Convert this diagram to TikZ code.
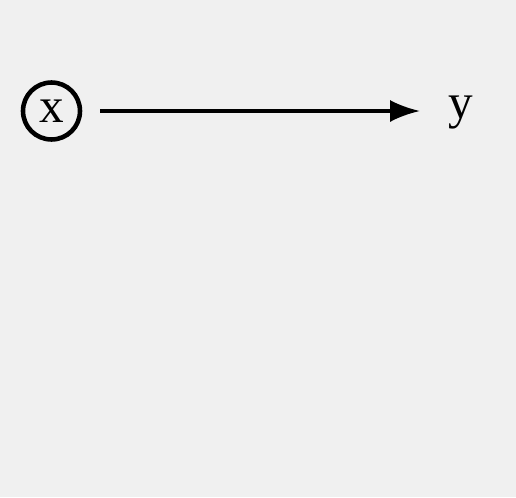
\documentclass[tikz,border=0pt]{standalone}
\usepackage{fontspec}
\setmainfont{Liberation Serif}
\usetikzlibrary{arrows.meta, positioning}
\definecolor{paper}{RGB}{240,240,240}

\begin{document}
\begin{tikzpicture}[
    x=0.02cm, y=-0.02cm,
    var/.style={font=\fontsize{28}{32}\selectfont, inner sep=0pt},
    circvar/.style={var, circle, draw=black, line width=2.6pt,
                    minimum size=1.14cm},
    link/.style={-{Latex[length=17pt,width=12.5pt]}, line width=2pt},
]

% page background, fixes the margins
\fill[paper] (0,0) rectangle (516,497);

% ======================================================
% x (circled) -> y
% ======================================================
\node[circvar] (x) at (51.5,111) {x};
\node[var, anchor=base west] (y) at (448,118) {y};

\draw[link, shorten <=0.36cm, shorten >=0.56cm] (x.east) -- (x.east -| y.west);

\end{tikzpicture}
\end{document}
